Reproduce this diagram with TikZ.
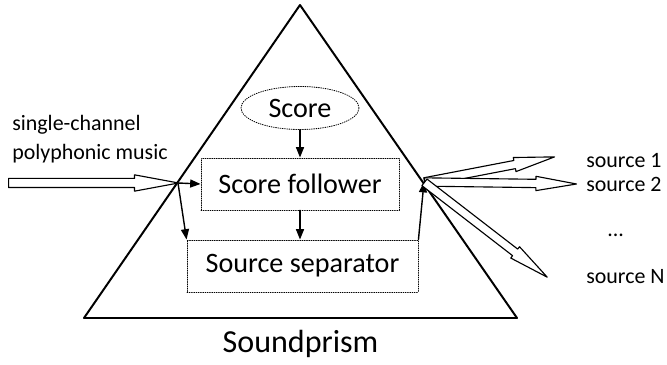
\documentclass[tikz,border=0pt]{standalone}
\usepackage{fontspec}
\setmainfont{Carlito}
\usetikzlibrary{calc,shapes.geometric,shapes.arrows,arrows.meta}
\tikzstyle{every path}=[line cap=round,line join=round]
\tikzstyle{block}=[draw,densely dotted,line width=0.6pt,inner sep=0pt,minimum height=1.3cm,font=\fontsize{20}{24}\selectfont]
\tikzstyle{flow}=[-{Triangle[length=0.26cm,width=0.2cm]},line width=1pt]
\tikzstyle{fatarrow}=[draw,fill=white,single arrow,line width=0.8pt,inner sep=0pt,minimum width=0pt,single arrow head indent=0pt]
\tikzstyle{txt}=[inner sep=0pt,anchor=base west,font=\fontsize{15.6}{18}\selectfont]
% hollow arrow from #2 to #3, made of a rotated single arrow node
\newcommand{\fatarrow}[3][]{\path let \p1=($(#3)-(#2)$) in
  node[fatarrow,#1,anchor=tail,rotate={atan2(\y1,\x1)},minimum height={veclen(\x1,\y1)}] at (#2) {};}

\begin{document}
\begin{tikzpicture}[x=0.025cm,y=-0.025cm]
\useasboundingbox (0,0) rectangle (667,365);
%The prism
	\draw[line width=1.4pt] (300,5) -- (517,318) -- (84,318) -- cycle;
	\coordinate (in) at (178,183);
	\coordinate (out) at (424,182);
%Blocks inside
	\node[block,ellipse,minimum width=2.95cm,minimum height=1.075cm] (score) at (300,108) {Score};
	\node[block,minimum width=4.95cm] (follower) at (300,184) {Score follower};
	\node[block,minimum width=5.775cm] (separator) at (302.5,266) {Source separator};
	\node[anchor=base,inner sep=0pt,font=\fontsize{22.8}{26}\selectfont] (title) at (300.5,353) {Soundprism};
	\draw[flow] (score) -- (follower);
	\draw[flow] (follower.south) -- (follower.south |- separator.north);
	\draw[flow] (in) -- (follower.west);
	\draw[flow] (in) -- (separator.north west);
	\draw[flow] (separator.north east) -- (out);
%Input and outputs
	\node[txt] (mix1) at (12,131) {single-channel};
	\node[txt] (mix2) at (12,160) {polyphonic music};
	\coordinate (mix) at (8,183);
	\fatarrow[single arrow head extend=0.09cm,inner ysep=0.1cm,single arrow tip angle=21]{mix}{in}
	\node[txt] (src1) at (586,168) {source 1};
	\node[txt] (src2) at (586,192) {source 2};
	\node[txt] (dots) at (607,237) {...};
	\node[txt] (srcN) at (586,284) {source N};
	\coordinate (t1) at (554,157);
	\coordinate (t2) at (576,184);
	\coordinate (tN) at (547,277);
	\foreach \t in {t1,t2,tN}{
		\fatarrow[single arrow head extend=0.075cm,inner ysep=0.09cm,single arrow tip angle=20]{out}{\t}
	}
\end{tikzpicture}
\end{document}
